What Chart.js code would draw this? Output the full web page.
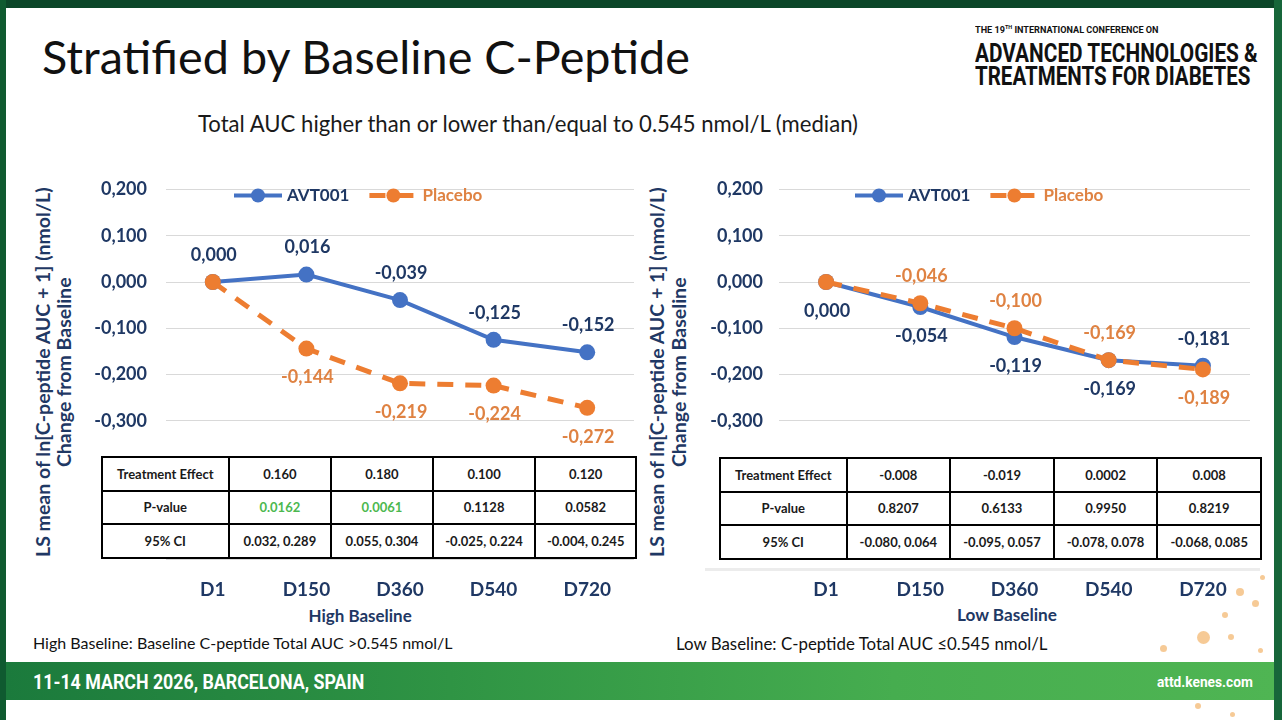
<!DOCTYPE html>
<html>
<head>
<meta charset="utf-8">
<script src="https://cdn.jsdelivr.net/npm/chart.js@4.4.1/dist/chart.umd.min.js"></script>
<style>
  html, body { margin: 0; padding: 0; }
  body { width: 1282px; height: 720px; position: relative; overflow: hidden; background: #fff; font-family: Lato, 'Open Sans', sans-serif; }
  .box { position: absolute; }
  .dot { position: absolute; border-radius: 50%; background: #f2b46a; opacity: 0.7; }
  .t { position: absolute; white-space: nowrap; line-height: 1.15; }
  .navy { color: #1f3864; font-weight: 700; }
  .cond { font-family: Roboto, 'Liberation Sans', sans-serif; font-weight: 700; }
  canvas { position: absolute; }
  table.stats { position: absolute; border-collapse: collapse; background: #fff; z-index: 5; font-size: 13px; font-weight: 700; color: #1a1a1a; }
  table.stats td { border: 2px solid #000; text-align: center; height: 30px; padding: 0; }
  .sig { color: #4cb84f; }
</style>
</head>
<body>

<!-- slide frame -->
<div class="box" style="left:0;top:0;width:1282px;height:8px;background:#0b4628;"></div>
<div class="box" style="left:0;top:0;width:6px;height:720px;background:#0f5a30;"></div>
<div class="box" style="left:1274px;top:0;width:8px;height:720px;background:#17663a;"></div>
<div class="box" style="left:6px;top:662px;width:1268px;height:38px;background:linear-gradient(90deg,#1b7a3c 0%,#2f9444 35%,#46ad4f 70%,#4fb553 100%);"></div>
<div class="box" style="left:705px;top:568px;width:555px;height:3px;background:#ececec;"></div>

<!-- molecule decoration, bottom right -->
<div class="dot" style="left:1236px;top:588px;width:8px;height:8px;"></div>
<div class="dot" style="left:1197px;top:631px;width:13px;height:13px;"></div>
<div class="dot" style="left:1252px;top:600px;width:7px;height:7px;"></div>
<div class="dot" style="left:1222px;top:612px;width:6px;height:6px;"></div>
<div class="dot" style="left:1160px;top:645px;width:7px;height:7px;"></div>
<div class="dot" style="left:1228px;top:634px;width:6px;height:6px;"></div>
<div class="dot" style="left:1260px;top:575px;width:5px;height:5px;"></div>
<div class="dot" style="left:1258px;top:648px;width:5px;height:5px;"></div>
<div class="dot" style="left:1195px;top:703px;width:6px;height:6px;"></div>
<div class="dot" style="left:1230px;top:712px;width:5px;height:5px;"></div>

<!-- slide texts -->
<div class="t" data-x="42" data-cy="57" data-w="648" data-fix="1" style="font-size:46px;font-weight:400;color:#111;">Stratified by Baseline C-Peptide</div>
<div class="t" data-x="198" data-cy="123" data-w="660" style="font-size:20px;color:#1a1a1a;">Total AUC higher than or lower than/equal to 0.545 nmol/L (median)</div>

<div class="t cond" data-x="975" data-cy="30.5" data-w="183" data-fix="1" style="font-size:8.5px;color:#111;">THE 19<sup style="font-size:60%;">TH</sup> INTERNATIONAL CONFERENCE ON</div>
<div class="t cond" data-x="975" data-cy="54" data-w="283" data-fix="1" style="font-size:25px;color:#111;">ADVANCED TECHNOLOGIES &amp;</div>
<div class="t cond" data-x="975" data-cy="77.5" data-w="275" data-fix="1" style="font-size:25px;color:#111;">TREATMENTS FOR DIABETES</div>

<div class="t navy" data-cx="43" data-cy="372" data-w="370" data-rot="1" style="font-size:17px;">LS mean of ln[C-peptide AUC + 1] (nmol/L)</div>
<div class="t navy" data-cx="64" data-cy="372" data-w="190" data-rot="1" style="font-size:17px;">Change from Baseline</div>
<div class="t navy" data-cx="657" data-cy="372" data-w="370" data-rot="1" style="font-size:17px;">LS mean of ln[C-peptide AUC + 1] (nmol/L)</div>
<div class="t navy" data-cx="679" data-cy="372" data-w="190" data-rot="1" style="font-size:17px;">Change from Baseline</div>

<div class="t navy" data-cx="360" data-cy="616" data-w="103" style="font-size:16px;">High Baseline</div>
<div class="t navy" data-cx="1007" data-cy="615" data-w="100" style="font-size:16px;">Low Baseline</div>

<div class="t" data-x="33" data-cy="643" data-w="420" style="font-size:16px;color:#111;">High Baseline: Baseline C-peptide Total AUC &gt;0.545 nmol/L</div>
<div class="t" data-x="676" data-cy="643" data-w="372" style="font-size:16px;color:#111;">Low Baseline: C-peptide Total AUC ≤0.545 nmol/L</div>

<div class="t cond" data-x="33" data-cy="681.5" data-w="331" data-fix="1" style="font-size:21px;color:#fff;">11-14 MARCH 2026, BARCELONA, SPAIN</div>
<div class="t cond" data-x="1157" data-cy="682" data-w="96" data-fix="1" style="font-size:15px;color:#fff;">attd.kenes.com</div>

<canvas id="highChart" width="560" height="480" style="left:95px;top:150px;"></canvas>
<canvas id="lowChart" width="560" height="480" style="left:710px;top:150px;"></canvas>

<table class="stats" id="highTable" style="left:101px;top:456px;width:536px;height:103px;"></table>
<table class="stats" id="lowTable" style="left:719px;top:457px;width:543px;height:103px;"></table>

<script>
// ---- data ----
const categories = ['D1', 'D150', 'D360', 'D540', 'D720'];

const highAvt = [0.000, 0.016, -0.039, -0.125, -0.152];
const highPlacebo = [0.000, -0.144, -0.219, -0.224, -0.272];
const lowAvt = [0.000, -0.054, -0.119, -0.169, -0.181];
const lowPlacebo = [0.000, -0.046, -0.100, -0.169, -0.189];

// where each value label sits (null = no label)
const highAvtLabels = ['above', 'above', 'above', 'above', 'above'];
const highPlaceboLabels = [null, 'below', 'below', 'below', 'below'];
const lowAvtLabels = ['below', 'below', 'below', 'below', 'above'];
const lowPlaceboLabels = [null, 'above', 'above', 'above', 'below'];

const yMin = -0.6;
const yMax = 0.2;
const yStep = 0.1;
const yLabelFloor = -0.3;

const tableRows = ['Treatment Effect', 'P-value', '95% CI'];
const highEffect = ['0.160', '0.180', '0.100', '0.120'];
const highPValue = ['0.0162', '0.0061', '0.1128', '0.0582'];
const highCI = ['0.032, 0.289', '0.055, 0.304', '-0.025, 0.224', '-0.004, 0.245'];
const lowEffect = ['-0.008', '-0.019', '0.0002', '0.008'];
const lowPValue = ['0.8207', '0.6133', '0.9950', '0.8219'];
const lowCI = ['-0.080, 0.064', '-0.095, 0.057', '-0.078, 0.078', '-0.068, 0.085'];

const NAVY = '#1f3864';
const BLUE = '#4472c4';
const ORANGE = '#ed7d31';
const ORANGE_TXT = '#df8242';

const fmt = v => v.toFixed(3).replace('.', ',');

Chart.defaults.font.family = 'Lato, "Open Sans", sans-serif';

// value labels next to the points
const valueLabels = {
  id: 'valueLabels',
  afterDatasetsDraw(chart) {
    const ctx = chart.ctx;
    ctx.save();
    ctx.font = 'bold 18px Lato, "Open Sans", sans-serif';
    ctx.textAlign = 'center';
    ctx.textBaseline = 'middle';
    chart.data.datasets.forEach((ds, i) => {
      const meta = chart.getDatasetMeta(i);
      ctx.fillStyle = ds.labelColor;
      meta.data.forEach((pt, j) => {
        const pos = ds.labelPos[j];
        if (!pos) return;
        const y = pos === 'above' ? pt.y - 27 : pt.y + 29;
        ctx.fillText(fmt(ds.data[j]), pt.x + 1, y);
      });
    });
    ctx.restore();
  }
};

// legend with line + marker, drawn inside the plot
const lineLegend = {
  id: 'lineLegend',
  afterDraw(chart, args, opts) {
    const ctx = chart.ctx;
    let x = chart.chartArea.left + opts.offsetX;
    const y = chart.chartArea.top + opts.offsetY;
    ctx.save();
    ctx.font = 'bold 17px Lato, "Open Sans", sans-serif';
    ctx.textBaseline = 'middle';
    chart.data.datasets.forEach(ds => {
      ctx.strokeStyle = ds.borderColor;
      ctx.lineWidth = ds.borderWidth;
      ctx.setLineDash(ds.borderDash || []);
      ctx.beginPath();
      ctx.moveTo(x, y);
      ctx.lineTo(x + 48, y);
      ctx.stroke();
      ctx.setLineDash([]);
      ctx.fillStyle = ds.pointBackgroundColor;
      ctx.beginPath();
      ctx.arc(x + 24, y, 7, 0, Math.PI * 2);
      ctx.fill();
      ctx.fillStyle = ds.labelColor;
      ctx.fillText(ds.label, x + 53, y);
      x += 53 + ctx.measureText(ds.label).width + 20;
    });
    ctx.restore();
  }
};

function makeChart(id, avt, placebo, avtPos, placeboPos, yWidth, tickPad, padRight, legendX) {
  return new Chart(document.getElementById(id), {
    type: 'line',
    data: {
      labels: categories,
      datasets: [
        {
          label: 'AVT001', data: avt, order: 2,
          borderColor: BLUE, borderWidth: 4, pointRadius: 8, pointHoverRadius: 8,
          pointBackgroundColor: BLUE, pointBorderWidth: 0, tension: 0,
          labelColor: NAVY, labelPos: avtPos
        },
        {
          label: 'Placebo', data: placebo, order: 1,
          borderColor: ORANGE, borderWidth: 5, borderDash: [16, 12], pointRadius: 8, pointHoverRadius: 8,
          pointBackgroundColor: ORANGE, pointBorderWidth: 0, tension: 0,
          labelColor: ORANGE_TXT, labelPos: placeboPos
        }
      ]
    },
    options: {
      responsive: false,
      animation: false,
      layout: { padding: { top: 39.5, right: padRight, bottom: 20.5, left: 0 } },
      plugins: {
        legend: { display: false },
        tooltip: { enabled: false },
        lineLegend: { offsetX: legendX, offsetY: 6 }
      },
      scales: {
        x: {
          offset: true,
          grid: { display: false },
          border: { display: false },
          ticks: { color: NAVY, font: { size: 19, weight: 'bold' }, padding: 11 },
          afterFit: s => { s.height = 50; }
        },
        y: {
          min: yMin, max: yMax,
          grid: { color: '#d9d9d9', lineWidth: 1, drawTicks: false },
          border: { display: false },
          ticks: {
            stepSize: yStep, color: NAVY, padding: tickPad,
            font: { size: 18, weight: 'bold' },
            callback: v => (v < yLabelFloor - 0.05 ? '' : fmt(v))
          },
          afterFit: s => { s.width = yWidth; }
        }
      }
    },
    plugins: [valueLabels, lineLegend]
  });
}

makeChart('highChart', highAvt, highPlacebo, highAvtLabels, highPlaceboLabels, 71, 19, 21, 68);
makeChart('lowChart', lowAvt, lowPlacebo, lowAvtLabels, lowPlaceboLabels, 69, 16, 20, 76);

function fillTable(id, effect, pval, ci, sigIdx, widths) {
  const t = document.getElementById(id);
  const cols = [effect, pval, ci];
  let html = '<colgroup>' + widths.map(w => '<col style="width:' + w + 'px">').join('') + '</colgroup>';
  tableRows.forEach((name, r) => {
    html += '<tr><td>' + name + '</td>';
    cols[r].forEach((v, c) => {
      const cls = (r === 1 && sigIdx.includes(c)) ? ' class="sig"' : '';
      html += '<td' + cls + '>' + v + '</td>';
    });
    html += '</tr>';
  });
  t.innerHTML = html;
}
fillTable('highTable', highEffect, highPValue, highCI, [0, 1], [127, 103, 102, 103, 101]);
fillTable('lowTable', lowEffect, lowPValue, lowCI, [], [127, 104, 104, 104, 104]);

// size slide texts to their measured widths and place them
function placeTexts() {
  document.querySelectorAll('.t').forEach(el => {
    const target = +el.dataset.w;
    let sx = 1;
    if (el.dataset.fix) {
      // keep the font size (glyph height), squeeze horizontally
      sx = target / el.offsetWidth;
    } else {
      let size = parseFloat(getComputedStyle(el).fontSize);
      for (let k = 0; k < 3; k++) {
        size = size * target / el.offsetWidth;
        el.style.fontSize = size + 'px';
      }
    }
    const w = el.offsetWidth, h = el.offsetHeight;
    const cy = +el.dataset.cy;
    el.style.top = (cy - h / 2) + 'px';
    if (el.dataset.cx !== undefined) {
      el.style.left = (+el.dataset.cx - w / 2) + 'px';
    } else {
      el.style.left = el.dataset.x + 'px';
      el.style.transformOrigin = 'left center';
    }
    const tf = [];
    if (el.dataset.rot) tf.push('rotate(-90deg)');
    if (sx !== 1) tf.push('scaleX(' + sx + ')');
    if (tf.length) el.style.transform = tf.join(' ');
  });
}
placeTexts();
</script>
</body>
</html>
